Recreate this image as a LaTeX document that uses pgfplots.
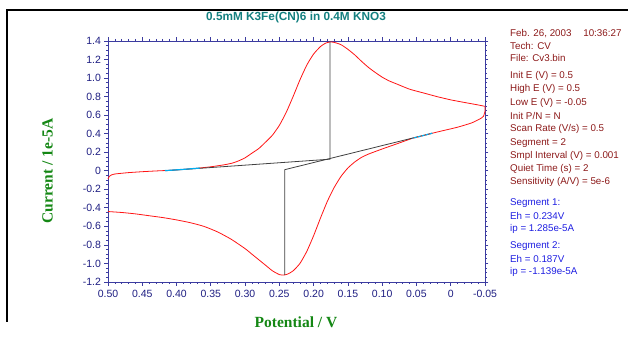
\documentclass[border=0pt]{standalone}
\usepackage{pgfplots}
\pgfplotsset{compat=1.18}
\usepackage{fontspec}
\setmainfont{Liberation Sans}
\newfontfamily\serifb{Liberation Serif}
\definecolor{axblue}{RGB}{60,60,160}
\definecolor{ticknavy}{RGB}{30,30,130}
\definecolor{titleteal}{RGB}{20,128,128}
\definecolor{labgreen}{RGB}{20,135,20}
\definecolor{infored}{RGB}{140,25,25}
\definecolor{infoblue}{RGB}{30,30,225}
\definecolor{cvred}{RGB}{255,20,20}
\begin{document}
\begin{tikzpicture}
\useasboundingbox (0bp,0bp) rectangle (628bp,340bp);
\draw[black, line width=1.3bp] (628bp,330bp) -- (7bp,330bp) -- (7bp,18bp);
\begin{axis}[
  at={(108bp,58bp)}, anchor=south west,
  width=377bp, height=241bp, scale only axis,
  x dir=reverse,
  xmin=-0.05, xmax=0.5, ymin=-1.2, ymax=1.4,
  axis line style={axblue, line width=0.9bp},
  tick style={axblue, line width=0.7bp},
  tick align=outside,
  major tick length=3.5bp, minor tick length=2bp,
  minor x tick num=4, minor y tick num=3,
  xtick={-0.05,0,0.05,0.1,0.15,0.2,0.25,0.3,0.35,0.4,0.45,0.5},
  xticklabels={-0.05,0,0.05,0.10,0.15,0.20,0.25,0.30,0.35,0.40,0.45,0.50},
  ytick={-1.2,-1.0,-0.8,-0.6,-0.4,-0.2,0,0.2,0.4,0.6,0.8,1.0,1.2,1.4},
  yticklabels={-1.2,-1.0,-0.8,-0.6,-0.4,-0.2,0,0.2,0.4,0.6,0.8,1.0,1.2,1.4},
  ticklabel style={font=\fontsize{10.5bp}{12bp}\selectfont, text=ticknavy},
  xticklabel style={yshift=-1bp},
  clip=false,
]
\addplot[cvred, line width=0.8bp, smooth, tension=0.35] coordinates {
(0.500,-0.09) (0.498,-0.06) (0.495,-0.045) (0.49,-0.035) (0.48,-0.027)
(0.47,-0.02) (0.45,-0.01) (0.43,-0.002) (0.41,0.005) (0.39,0.015)
(0.37,0.027) (0.35,0.043) (0.33,0.065) (0.318,0.084) (0.31,0.105)
(0.30,0.14) (0.29,0.19) (0.28,0.24) (0.27,0.31) (0.26,0.385)
(0.25,0.49) (0.24,0.63) (0.23,0.80) (0.22,0.98) (0.21,1.14)
(0.20,1.26) (0.19,1.34) (0.183,1.375) (0.176,1.39) (0.17,1.385)
(0.16,1.36) (0.15,1.31) (0.14,1.25) (0.13,1.18) (0.12,1.115)
(0.11,1.06) (0.10,1.01) (0.09,0.97) (0.08,0.94) (0.06,0.88)
(0.04,0.84) (0.02,0.80) (0.0,0.765) (-0.02,0.737) (-0.04,0.71) (-0.05,0.695)
};
\addplot[cvred, line width=0.8bp] coordinates {
(-0.05,0.695) (-0.05,0.64) (-0.048,0.59)
};
\addplot[cvred, line width=0.8bp, smooth, tension=0.35] coordinates {
(-0.048,0.59) (-0.045,0.57) (-0.04,0.55) (-0.03,0.515) (-0.01,0.47)
(0.01,0.435) (0.027,0.405) (0.04,0.38) (0.056,0.35) (0.075,0.30)
(0.10,0.235) (0.12,0.18) (0.13,0.145) (0.14,0.095) (0.15,0.03)
(0.16,-0.06) (0.17,-0.18) (0.18,-0.33) (0.19,-0.51) (0.20,-0.70)
(0.21,-0.87) (0.22,-1.00) (0.23,-1.08) (0.238,-1.115) (0.244,-1.125)
(0.25,-1.12) (0.26,-1.08) (0.27,-1.02) (0.28,-0.96) (0.29,-0.90)
(0.30,-0.84) (0.32,-0.74) (0.34,-0.66) (0.36,-0.60) (0.38,-0.56)
(0.40,-0.53) (0.42,-0.505) (0.44,-0.485) (0.46,-0.465) (0.48,-0.45) (0.50,-0.44)
};
% baselines
\addplot[black!75, line width=0.8bp] coordinates {(0.417,0.0) (0.176,0.125) (0.176,1.39)};
\addplot[black!75, line width=0.8bp] coordinates {(0.027,0.405) (0.242,0.012) (0.242,-1.125)};
% fitted regions
\addplot[cyan, line width=1.2bp] coordinates {(0.417,0.002) (0.41,0.005) (0.39,0.015) (0.37,0.027) (0.366,0.029)};
\addplot[cyan, line width=1.2bp, dash pattern=on 2.5bp off 1.5bp] coordinates {(0.027,0.405) (0.04,0.38) (0.056,0.35)};
\end{axis}
\node[text=titleteal, font=\bfseries\fontsize{11.8bp}{14bp}\selectfont] at (296bp,323bp) {0.5mM K3Fe(CN)6 in 0.4M KNO3};
\node[text=labgreen, font=\serifb\bfseries\fontsize{15.5bp}{18bp}\selectfont] at (296bp,18bp) {Potential / V};
\node[text=labgreen, font=\serifb\bfseries\fontsize{15.5bp}{18bp}\selectfont, rotate=90] at (47.5bp,169bp) {Current / 1e-5A};
\begin{scope}[every node/.style={anchor=west, inner sep=0pt, font=\fontsize{9.8bp}{11bp}\selectfont}]
\node[text=infored] at (510bp,306bp) {Feb. 26, 2003\hspace{1.2em}10:36:27};
\node[text=infored] at (510bp,294bp) {Tech: CV};
\node[text=infored] at (510bp,282bp) {File: Cv3.bin};
\node[text=infored] at (510bp,264bp) {Init E (V) = 0.5};
\node[text=infored] at (510bp,251bp) {High E (V) = 0.5};
\node[text=infored] at (510bp,237bp) {Low E (V) = -0.05};
\node[text=infored] at (510bp,224bp) {Init P/N = N};
\node[text=infored] at (510bp,211bp) {Scan Rate (V/s) = 0.5};
\node[text=infored] at (510bp,197bp) {Segment = 2};
\node[text=infored] at (510bp,184bp) {Smpl Interval (V) = 0.001};
\node[text=infored] at (510bp,171bp) {Quiet Time (s) = 2};
\node[text=infored] at (510bp,158bp) {Sensitivity (A/V) = 5e-6};
\node[text=infoblue] at (510bp,137bp) {Segment 1:};
\node[text=infoblue] at (510bp,124bp) {Eh = 0.234V};
\node[text=infoblue] at (510bp,111bp) {ip = 1.285e-5A};
\node[text=infoblue] at (510bp,94bp) {Segment 2:};
\node[text=infoblue] at (510bp,81bp) {Eh = 0.187V};
\node[text=infoblue] at (510bp,68bp) {ip = -1.139e-5A};
\end{scope}
\end{tikzpicture}
\end{document}
